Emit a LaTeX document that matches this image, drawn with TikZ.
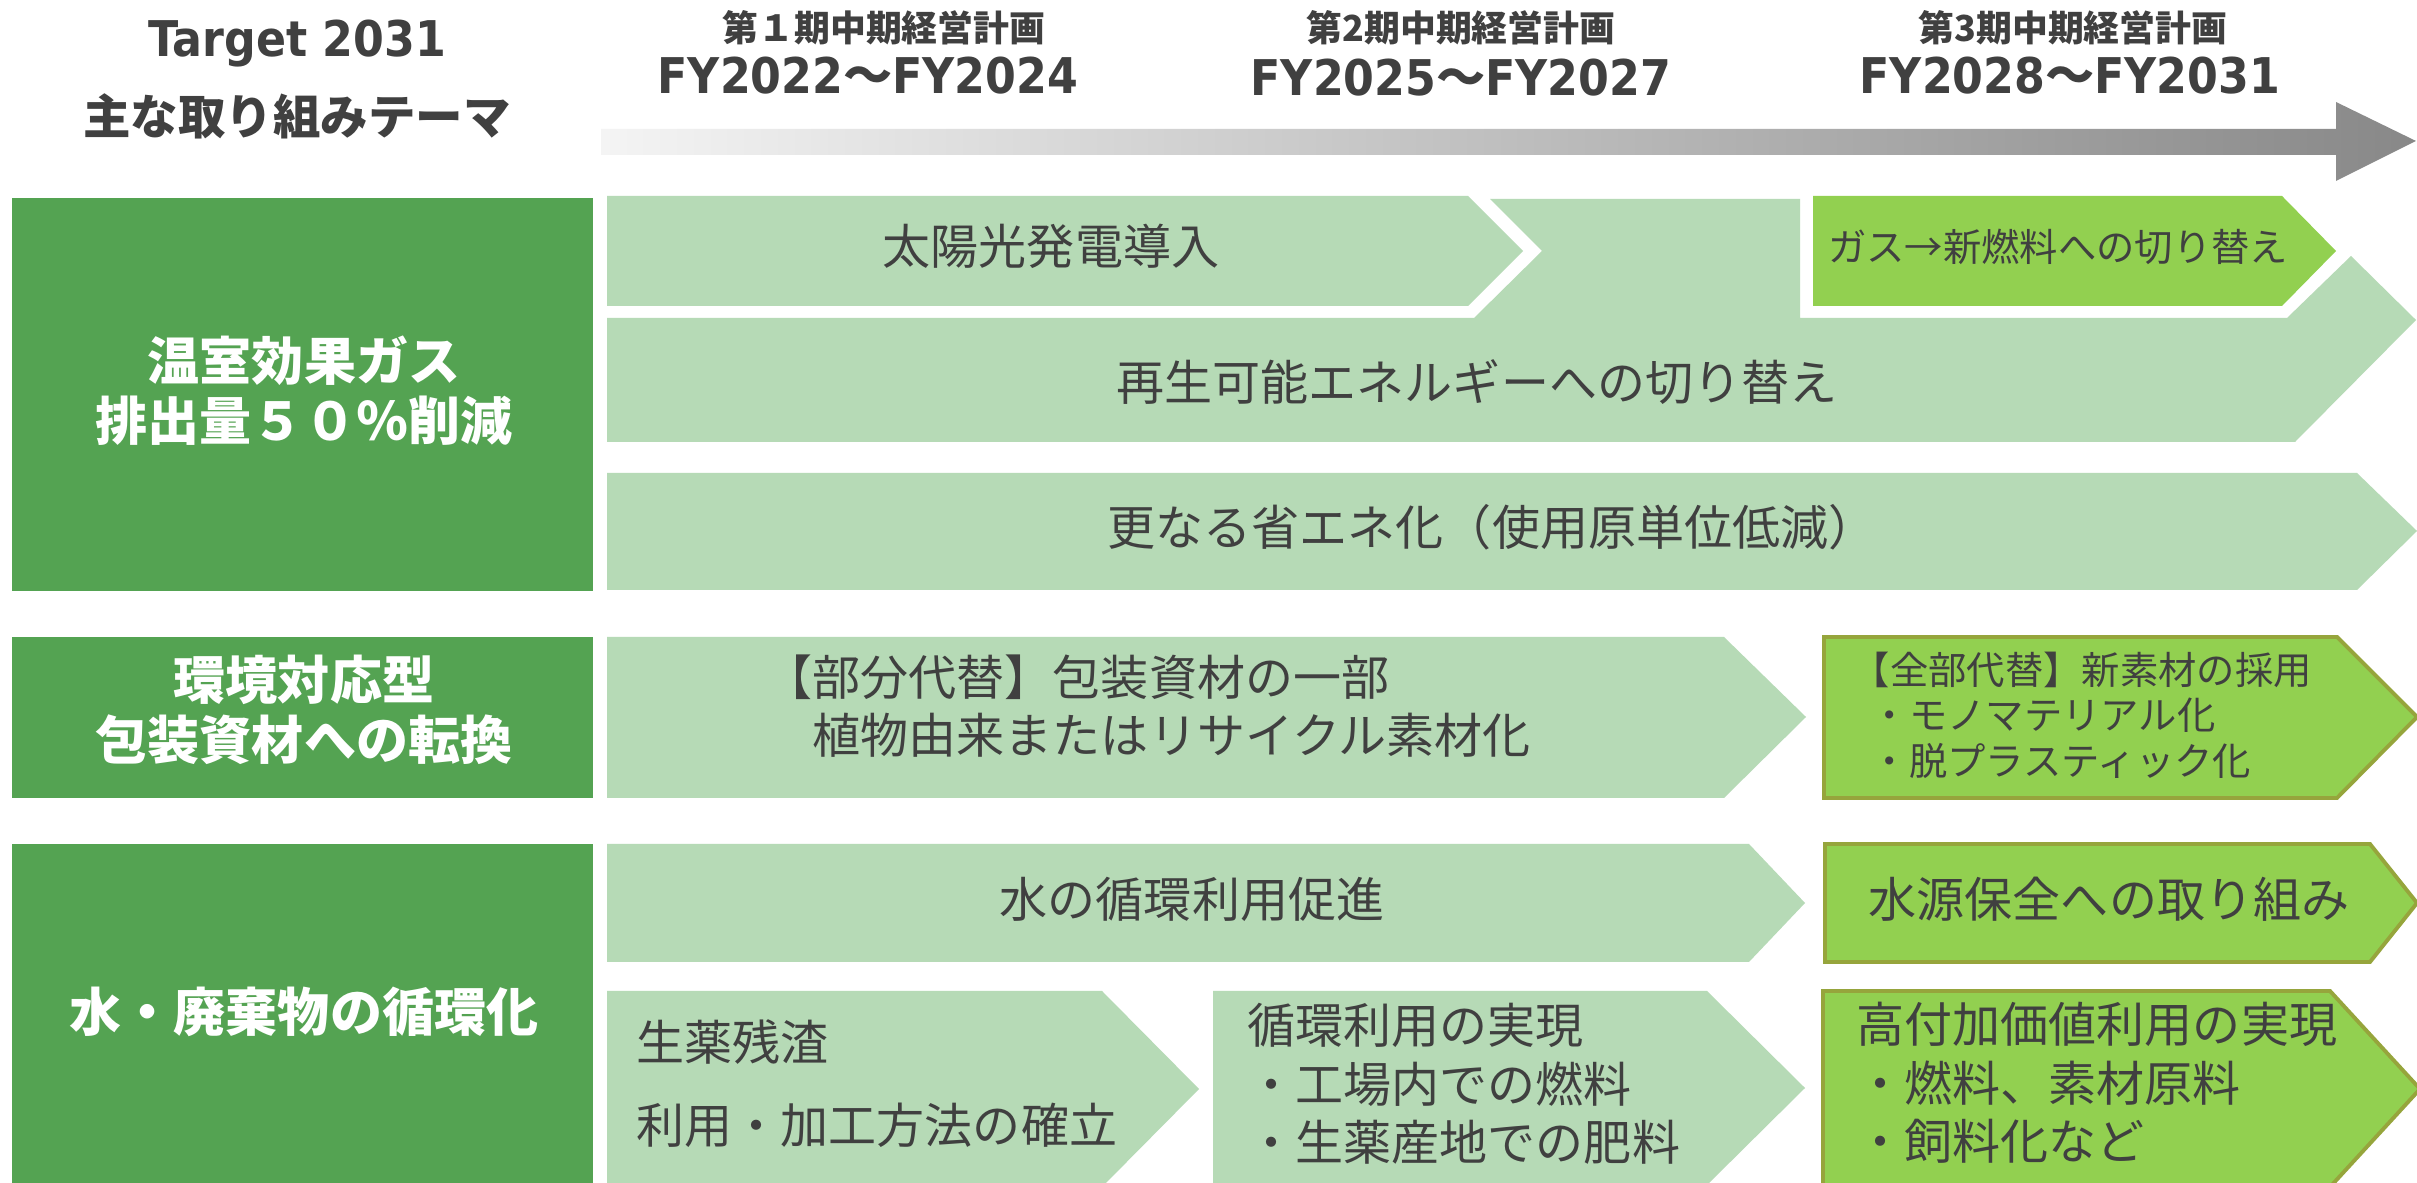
\documentclass[tikz,border=0pt]{standalone}
\usepackage{fontspec}
\setmainfont{Noto Sans CJK JP}
\newfontfamily\latinbold{DejaVu Sans}[FakeStretch=0.9]
\usepackage{tikz}
\usepackage{color}

\definecolor{deepgreen}{RGB}{84,163,82}
\definecolor{palegreen}{RGB}{182,218,182}
\definecolor{limegreen}{RGB}{146,208,80}
\definecolor{olivelime}{RGB}{150,165,60}
\definecolor{inkgray}{RGB}{64,64,64}
\definecolor{barleft}{RGB}{244,244,244}
\definecolor{barright}{RGB}{136,136,136}

\tikzset{
	theme/.style={fill=deepgreen},
	plan/.style={fill=palegreen},
	goal/.style={fill=limegreen, draw=olivelime, line width=1.1pt},
	themetext/.style={text=white, align=center, inner sep=0pt, font=\bfseries\fontsize{14.8pt}{17pt}\selectfont},
	headtext/.style={text=inkgray, align=center, inner sep=0pt, font=\bfseries\fontsize{13.5pt}{16pt}\selectfont},
	yeartext/.style={text=inkgray, align=center, inner sep=0pt, font=\bfseries\fontsize{14pt}{16pt}\selectfont},
	termtext/.style={text=inkgray, inner sep=0pt, font=\bfseries\fontsize{10.2pt}{12pt}\selectfont},
	bodytext/.style={text=inkgray, inner sep=0pt, font=\fontsize{13.66pt}{16.6pt}\selectfont},
	smalltext/.style={text=inkgray, inner sep=0pt, font=\fontsize{10.9pt}{12.9pt}\selectfont}
}

\begin{document}
\begin{tikzpicture}[x=0.01cm, y=-0.01cm]
					\useasboundingbox (0, 0) rectangle (2417, 1183);
					\fill[white] (0, 0) rectangle (2417, 1183);
					\shade[left color=barleft, right color=barright] (601, 129) -- (2336, 129) -- (2336, 102) -- (2416, 141) -- (2336, 181) -- (2336, 155) -- (601, 155) -- cycle;
					\fill[theme] (12, 198) rectangle (593, 591);
					\fill[theme] (12, 637) rectangle (593, 798);
					\fill[theme] (12, 844) rectangle (593, 1183);
					\fill[plan] (607, 196) -- (1468, 196) -- (1523, 251) -- (1468, 306) -- (607, 306) -- cycle;
					\fill[plan] (607, 318) -- (1474, 318) -- (1542, 251) -- (1490, 199) -- (1800, 199) -- (1800, 318) -- (2287, 318) -- (2351, 256) -- (2416, 320) -- (2295, 442) -- (607, 442) -- cycle;
					\fill[limegreen] (1813, 196) -- (2282, 196) -- (2336, 251) -- (2282, 306) -- (1813, 306) -- cycle;
					\fill[plan] (607, 473) -- (2357, 473) -- (2417, 531) -- (2357, 590) -- (607, 590) -- cycle;
					\fill[plan] (607, 637) -- (1724, 637) -- (1806, 717) -- (1724, 798) -- (607, 798) -- cycle;
					\filldraw[goal] (1824, 637) -- (2337, 637) -- (2417, 717) -- (2337, 798) -- (1824, 798) -- cycle;
					\fill[plan] (607, 844) -- (1749, 844) -- (1805, 903) -- (1749, 962) -- (607, 962) -- cycle;
					\filldraw[goal] (1825, 844) -- (2370, 844) -- (2417, 903) -- (2370, 962) -- (1825, 962) -- cycle;
					\fill[plan] (607, 991) -- (1102, 991) -- (1199, 1089) -- (1102, 1187) -- (607, 1187) -- cycle;
					\fill[plan] (1213, 991) -- (1707, 991) -- (1805, 1088) -- (1707, 1185) -- (1213, 1185) -- cycle;
					\filldraw[goal] (1823, 991) -- (2330, 991) -- (2420, 1089) -- (2330, 1187) -- (1823, 1187) -- cycle;
					\node[yeartext] (target) at (297, 44) {{\latinbold Target 2031}};
					\node[headtext] (themes) at (297, 116) {主な取り組みテーマ};
					\node[termtext] (termA) at (884, 28) {第１期中期経営計画};
					\node[yeartext] (fyA) at (868, 76) {{\latinbold FY2022}～{\latinbold FY2024}};
					\node[termtext] (termB) at (1461, 28) {第2期中期経営計画};
					\node[yeartext] (fyB) at (1461, 78) {{\latinbold FY2025}～{\latinbold FY2027}};
					\node[termtext] (termC) at (2073, 28) {第3期中期経営計画};
					\node[yeartext] (fyC) at (2070, 76) {{\latinbold FY2028}～{\latinbold FY2031}};
					\node[themetext] (ghg) at (304, 391) {温室効果ガス\\排出量５０％削減};
					\node[themetext] (pack) at (304, 710) {環境対応型\\包装資材への転換};
					\node[themetext] (waste) at (304, 1012) {水・廃棄物の循環化};
					\node[bodytext] (solar) at (1051, 246) {太陽光発電導入};
					\node[bodytext] (renew) at (1477, 382) {再生可能エネルギーへの切り替え};
					\node[bodytext] (saving) at (1492, 527) {更なる省エネ化（使用原単位低減）};
					\node[smalltext] (fuel) at (2058, 247) {ガス→新燃料への切り替え};
					\node[bodytext, align=left, anchor=west] (partial) at (764, 706) {【部分代替】包装資材の一部\\\hspace*{1em}植物由来またはリサイクル素材化};
					\node[smalltext, align=left, anchor=west] (full) at (1851, 715) {【全部代替】新素材の採用\\\hspace*{0.5em}・モノマテリアル化\\\hspace*{0.5em}・脱プラスティック化};
					\node[bodytext] (reuse) at (1192, 899) {水の循環利用促進};
					\node[bodytext] (source) at (2109, 899) {水源保全への取り組み};
					\node[bodytext, align=left, anchor=west, font=\fontsize{13.66pt}{23.6pt}\selectfont] (residue) at (636, 1084) {生薬残渣\\利用・加工方法の確立};
					\node[bodytext, align=left, anchor=west] (loop) at (1247, 1084) {循環利用の実現\\・工場内での燃料\\・生薬産地での肥料};
					\node[bodytext, align=left, anchor=west] (value) at (1856, 1083) {高付加価値利用の実現\\・燃料、素材原料\\・飼料化など};
\end{tikzpicture}
\end{document}
